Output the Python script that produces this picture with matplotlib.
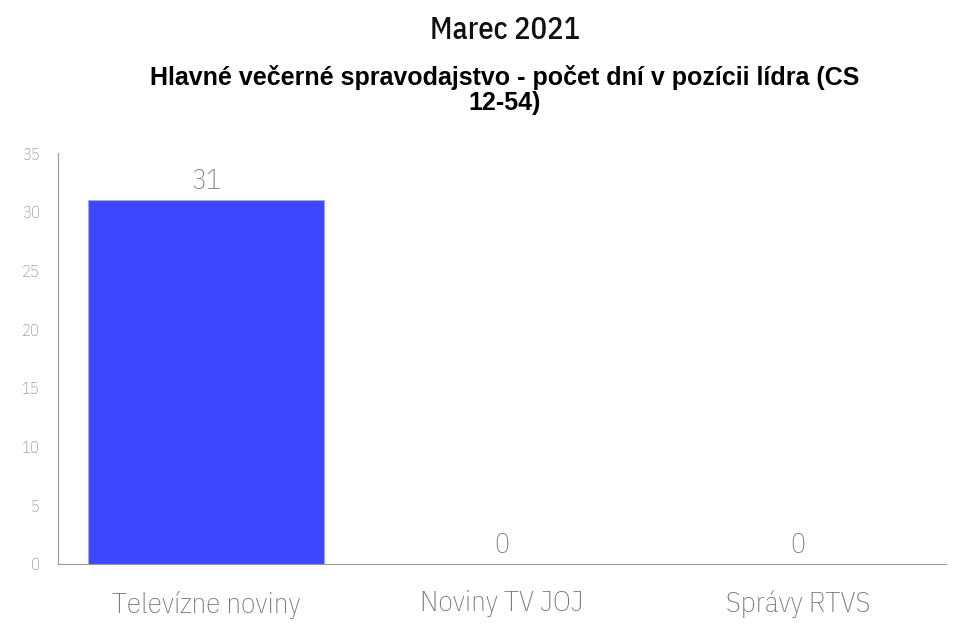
import matplotlib
matplotlib.use("Agg")
import matplotlib.pyplot as plt

categories = ["Televízne noviny", "Noviny TV JOJ", "Správy RTVS"]
values = [31, 0, 0]
y_ticks = [0, 5, 10, 15, 20, 25, 30, 35]

cond = ["IBM Plex Sans Condensed", "DejaVu Sans"]

fig = plt.figure(figsize=(9.59, 6.32), dpi=100)
ax = fig.add_axes([58 / 959, 1 - 564 / 632, (946 - 58) / 959, (564 - 153) / 632])

x = range(len(categories))
ax.bar(x, values, width=0.8, color="#3d47ff", edgecolor="#a0a6ff", linewidth=0.8)
for xi, v in zip(x, values):
    ax.text(xi, v + 0.4, str(v), ha="center", va="bottom", fontsize=20,
            color="#777777", family=cond, fontweight="light")

ax.set_xlim(-0.5, 2.5)
ax.set_ylim(0, 35)
ax.set_yticks(y_ticks)
ax.set_yticklabels([str(t) for t in y_ticks], fontsize=12, color="#888888",
                   family=cond, fontweight="light")
ax.set_xticks(list(x))
ax.set_xticklabels(categories, fontsize=21, color="#777777", family=cond,
                   fontweight="light")
ax.tick_params(axis="both", length=0)
ax.tick_params(axis="y", pad=13)
ax.tick_params(axis="x", pad=19)
for s in ["top", "right"]:
    ax.spines[s].set_visible(False)
ax.spines["left"].set_color("#999999")
ax.spines["bottom"].set_color("#999999")

fig.text(505 / 959, 1 - 30 / 632, "Marec 2021", ha="center", va="center",
         fontsize=22, color="#111111", family=cond, fontweight="medium")
fig.text(505 / 959, 1 - 90 / 632,
         "Hlavné večerné spravodajstvo - počet dní v pozícii lídra (CS\n12-54)",
         ha="center", va="center", fontsize=18, fontweight="bold",
         family="Liberation Sans", linespacing=1.1)

fig.savefig("out.png", dpi=100)
